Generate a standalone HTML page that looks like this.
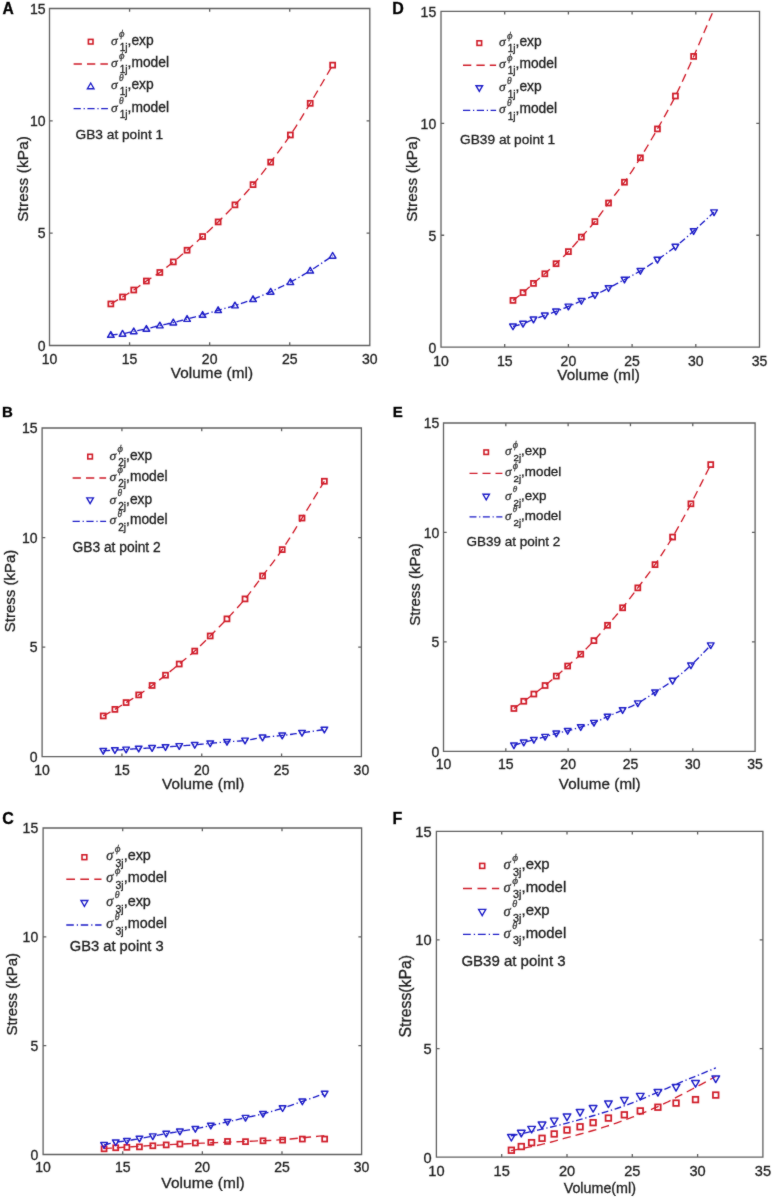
<!DOCTYPE html><html><head><meta charset="utf-8"><style>html,body{margin:0;padding:0;background:#fff;width:774px;height:1198px;overflow:hidden;}svg{display:block;}text{font-family:"Liberation Sans",sans-serif;stroke:#1a1a1a;stroke-width:0.3px;paint-order:stroke;}.g{font-family:"Liberation Serif",serif;font-style:italic;}.b{font-weight:bold;}</style></head><body>
<svg width="774" height="1198" viewBox="0 0 774 1198">
<rect width="774" height="1198" fill="#fff"/>
<filter id="bl" x="0" y="0" width="774" height="1198" filterUnits="userSpaceOnUse"><feConvolveMatrix order="3" kernelMatrix="1 2 1 2 28 2 1 2 1" divisor="40" edgeMode="duplicate" preserveAlpha="false"/></filter>
<g filter="url(#bl)">
<clipPath id="c0"><rect x="49.5" y="8.5" width="320.30" height="337.00"/></clipPath>
<g clip-path="url(#c0)" fill="none" stroke-width="1.35">
<path d="M110.84,303.94 L111.54,303.52 L112.44,302.99 L113.50,302.36 L114.70,301.65 L115.98,300.89 L117.33,300.09 L118.69,299.28 L120.03,298.48 L121.33,297.70 L122.53,296.97 L123.66,296.28 L124.78,295.61 L125.88,294.95 L126.98,294.28 L128.07,293.62 L129.17,292.94 L130.28,292.25 L131.41,291.53 L132.56,290.79 L133.74,290.01 L134.94,289.19 L136.16,288.33 L137.40,287.45 L138.66,286.54 L139.92,285.61 L141.20,284.68 L142.49,283.75 L143.79,282.82 L145.09,281.91 L146.39,281.02 L147.70,280.16 L149.03,279.32 L150.37,278.49 L151.71,277.67 L153.07,276.85 L154.42,276.02 L155.78,275.18 L157.14,274.31 L158.49,273.42 L159.84,272.48 L161.19,271.51 L162.53,270.52 L163.87,269.50 L165.21,268.46 L166.55,267.40 L167.89,266.33 L169.24,265.24 L170.58,264.14 L171.94,263.03 L173.30,261.92 L174.65,260.81 L176.00,259.69 L177.35,258.57 L178.70,257.43 L180.05,256.28 L181.42,255.11 L182.80,253.93 L184.20,252.73 L185.62,251.50 L187.07,250.24 L188.55,248.96 L190.06,247.64 L191.60,246.31 L193.16,244.95 L194.73,243.57 L196.31,242.18 L197.89,240.78 L199.47,239.37 L201.04,237.95 L202.60,236.54 L204.15,235.12 L205.69,233.71 L207.22,232.30 L208.76,230.88 L210.29,229.45 L211.83,228.00 L213.38,226.52 L214.95,225.03 L216.53,223.50 L218.14,221.93 L219.76,220.34 L221.40,218.73 L223.05,217.09 L224.71,215.43 L226.39,213.75 L228.07,212.03 L229.77,210.29 L231.49,208.51 L233.21,206.70 L234.95,204.86 L236.71,202.97 L238.50,201.05 L240.30,199.09 L242.12,197.10 L243.95,195.09 L245.78,193.04 L247.62,190.97 L249.44,188.88 L251.25,186.77 L253.05,184.64 L254.82,182.50 L256.57,180.36 L258.31,178.21 L260.03,176.04 L261.76,173.84 L263.49,171.61 L265.24,169.33 L267.02,167.00 L268.82,164.62 L270.67,162.17 L272.55,159.66 L274.47,157.11 L276.42,154.50 L278.39,151.85 L280.38,149.16 L282.37,146.41 L284.38,143.62 L286.38,140.79 L288.38,137.91 L290.37,134.99 L292.33,132.03 L294.29,129.04 L296.23,126.02 L298.17,122.95 L300.12,119.84 L302.09,116.67 L304.07,113.43 L306.09,110.13 L308.13,106.76 L310.22,103.31 L312.46,99.58 L314.90,95.48 L317.47,91.13 L320.08,86.67 L322.68,82.23 L325.17,77.96 L327.49,73.97 L329.55,70.41 L331.30,67.42 L332.65,65.12" stroke="#d01e2c" stroke-dasharray="8.3,5.0"/>
<path d="M110.84,334.94 L111.54,334.88 L112.44,334.81 L113.50,334.73 L114.70,334.64 L115.98,334.53 L117.33,334.42 L118.69,334.29 L120.03,334.15 L121.33,333.99 L122.53,333.82 L123.66,333.62 L124.78,333.41 L125.88,333.18 L126.98,332.93 L128.07,332.67 L129.17,332.40 L130.28,332.13 L131.41,331.86 L132.56,331.60 L133.74,331.35 L134.94,331.10 L136.16,330.87 L137.40,330.63 L138.66,330.40 L139.92,330.17 L141.20,329.93 L142.49,329.68 L143.79,329.43 L145.09,329.16 L146.39,328.87 L147.70,328.57 L149.03,328.25 L150.37,327.92 L151.71,327.57 L153.07,327.22 L154.42,326.86 L155.78,326.51 L157.14,326.16 L158.49,325.83 L159.84,325.50 L161.19,325.20 L162.53,324.90 L163.87,324.62 L165.21,324.34 L166.55,324.06 L167.89,323.78 L169.24,323.50 L170.58,323.20 L171.94,322.90 L173.30,322.58 L174.65,322.25 L176.00,321.92 L177.35,321.57 L178.70,321.22 L180.05,320.86 L181.42,320.49 L182.80,320.12 L184.20,319.75 L185.62,319.37 L187.07,318.99 L188.55,318.61 L190.06,318.22 L191.60,317.83 L193.16,317.44 L194.73,317.04 L196.31,316.63 L197.89,316.22 L199.47,315.80 L201.04,315.38 L202.60,314.95 L204.15,314.50 L205.69,314.04 L207.22,313.58 L208.76,313.11 L210.29,312.63 L211.83,312.15 L213.38,311.66 L214.95,311.18 L216.53,310.70 L218.14,310.23 L219.76,309.76 L221.40,309.31 L223.05,308.86 L224.71,308.42 L226.39,307.97 L228.07,307.51 L229.77,307.04 L231.49,306.55 L233.21,306.04 L234.95,305.51 L236.71,304.95 L238.50,304.37 L240.30,303.77 L242.12,303.16 L243.95,302.53 L245.78,301.89 L247.62,301.24 L249.44,300.57 L251.25,299.90 L253.05,299.22 L254.82,298.53 L256.57,297.84 L258.31,297.15 L260.03,296.44 L261.76,295.72 L263.49,294.99 L265.24,294.23 L267.02,293.45 L268.82,292.64 L270.67,291.80 L272.55,290.94 L274.47,290.05 L276.42,289.13 L278.39,288.19 L280.38,287.23 L282.37,286.25 L284.38,285.25 L286.38,284.23 L288.38,283.19 L290.37,282.14 L292.33,281.09 L294.29,280.02 L296.23,278.94 L298.17,277.85 L300.12,276.74 L302.09,275.60 L304.07,274.43 L306.09,273.22 L308.13,271.98 L310.22,270.69 L312.46,269.27 L314.90,267.70 L317.47,266.02 L320.08,264.29 L322.68,262.56 L325.17,260.88 L327.49,259.32 L329.55,257.93 L331.30,256.76 L332.65,255.86" stroke="#1c1cc8" stroke-dasharray="6.8,2.7,1.3,2.6"/>
<rect x="108.34" y="301.44" width="5.0" height="5.0" stroke="#d01e2c" stroke-width="1.75"/>
<rect x="120.03" y="294.47" width="5.0" height="5.0" stroke="#d01e2c" stroke-width="1.75"/>
<rect x="131.24" y="287.51" width="5.0" height="5.0" stroke="#d01e2c" stroke-width="1.75"/>
<rect x="143.89" y="278.52" width="5.0" height="5.0" stroke="#d01e2c" stroke-width="1.75"/>
<rect x="157.34" y="269.98" width="5.0" height="5.0" stroke="#d01e2c" stroke-width="1.75"/>
<rect x="170.80" y="259.42" width="5.0" height="5.0" stroke="#d01e2c" stroke-width="1.75"/>
<rect x="184.57" y="247.74" width="5.0" height="5.0" stroke="#d01e2c" stroke-width="1.75"/>
<rect x="200.10" y="234.04" width="5.0" height="5.0" stroke="#d01e2c" stroke-width="1.75"/>
<rect x="215.64" y="219.43" width="5.0" height="5.0" stroke="#d01e2c" stroke-width="1.75"/>
<rect x="232.45" y="202.36" width="5.0" height="5.0" stroke="#d01e2c" stroke-width="1.75"/>
<rect x="250.55" y="182.14" width="5.0" height="5.0" stroke="#d01e2c" stroke-width="1.75"/>
<rect x="268.17" y="159.67" width="5.0" height="5.0" stroke="#d01e2c" stroke-width="1.75"/>
<rect x="287.87" y="132.49" width="5.0" height="5.0" stroke="#d01e2c" stroke-width="1.75"/>
<rect x="307.72" y="100.81" width="5.0" height="5.0" stroke="#d01e2c" stroke-width="1.75"/>
<rect x="330.15" y="62.62" width="5.0" height="5.0" stroke="#d01e2c" stroke-width="1.75"/>
<polygon points="110.84,331.58 114.14,337.30 107.54,337.30" stroke="#1c1cc8" stroke-width="1.45" stroke-linejoin="round"/>
<polygon points="122.53,330.46 125.83,336.18 119.23,336.18" stroke="#1c1cc8" stroke-width="1.45" stroke-linejoin="round"/>
<polygon points="133.74,327.99 137.04,333.70 130.44,333.70" stroke="#1c1cc8" stroke-width="1.45" stroke-linejoin="round"/>
<polygon points="146.39,325.52 149.69,331.23 143.09,331.23" stroke="#1c1cc8" stroke-width="1.45" stroke-linejoin="round"/>
<polygon points="159.84,322.15 163.14,327.86 156.54,327.86" stroke="#1c1cc8" stroke-width="1.45" stroke-linejoin="round"/>
<polygon points="173.30,319.23 176.60,324.94 170.00,324.94" stroke="#1c1cc8" stroke-width="1.45" stroke-linejoin="round"/>
<polygon points="187.07,315.63 190.37,321.35 183.77,321.35" stroke="#1c1cc8" stroke-width="1.45" stroke-linejoin="round"/>
<polygon points="202.60,311.59 205.90,317.30 199.30,317.30" stroke="#1c1cc8" stroke-width="1.45" stroke-linejoin="round"/>
<polygon points="218.14,306.87 221.44,312.59 214.84,312.59" stroke="#1c1cc8" stroke-width="1.45" stroke-linejoin="round"/>
<polygon points="234.95,302.15 238.25,307.87 231.65,307.87" stroke="#1c1cc8" stroke-width="1.45" stroke-linejoin="round"/>
<polygon points="253.05,295.86 256.35,301.58 249.75,301.58" stroke="#1c1cc8" stroke-width="1.45" stroke-linejoin="round"/>
<polygon points="270.67,288.45 273.97,294.16 267.37,294.16" stroke="#1c1cc8" stroke-width="1.45" stroke-linejoin="round"/>
<polygon points="290.37,278.79 293.67,284.50 287.07,284.50" stroke="#1c1cc8" stroke-width="1.45" stroke-linejoin="round"/>
<polygon points="310.22,267.33 313.52,273.04 306.92,273.04" stroke="#1c1cc8" stroke-width="1.45" stroke-linejoin="round"/>
<polygon points="332.65,252.50 335.95,258.22 329.35,258.22" stroke="#1c1cc8" stroke-width="1.45" stroke-linejoin="round"/>
</g>
<path d="M49.5,8.5 H369.8 V345.5 H49.5 Z M129.57,345.5 v-3.2 M129.57,8.5 v3.2 M209.65,345.5 v-3.2 M209.65,8.5 v3.2 M289.73,345.5 v-3.2 M289.73,8.5 v3.2 M49.5,233.17 h3.2 M369.8,233.17 h-3.2 M49.5,120.83 h3.2 M369.8,120.83 h-3.2" fill="none" stroke="#606060" stroke-width="1.3"/>
<text x="49.50" y="363.90" font-size="14.0" fill="#1c1c1c" text-anchor="middle">10</text>
<text x="129.57" y="363.90" font-size="14.0" fill="#1c1c1c" text-anchor="middle">15</text>
<text x="209.65" y="363.90" font-size="14.0" fill="#1c1c1c" text-anchor="middle">20</text>
<text x="289.73" y="363.90" font-size="14.0" fill="#1c1c1c" text-anchor="middle">25</text>
<text x="369.80" y="363.90" font-size="14.0" fill="#1c1c1c" text-anchor="middle">30</text>
<text x="45.50" y="350.80" font-size="14.0" fill="#1c1c1c" text-anchor="end">0</text>
<text x="45.50" y="238.47" font-size="14.0" fill="#1c1c1c" text-anchor="end">5</text>
<text x="45.50" y="126.13" font-size="14.0" fill="#1c1c1c" text-anchor="end">10</text>
<text x="45.50" y="13.80" font-size="14.0" fill="#1c1c1c" text-anchor="end">15</text>
<text x="212.00" y="377.60" font-size="15.25" letter-spacing="0.1" fill="#1c1c1c" text-anchor="middle">Volume (ml)</text>
<text transform="translate(27.55,178.90) rotate(-90)" font-size="15.3" letter-spacing="0.15" fill="#1c1c1c" text-anchor="middle">Stress (kPa)</text>
<text x="2.4" y="13.7" font-size="15.6" class="b" fill="#000">A</text>
<rect x="88.40" y="39.40" width="4.60" height="4.60" fill="none" stroke="#d01e2c" stroke-width="1.6"/>
<line x1="73.6" y1="64" x2="107.9" y2="64" stroke="#d01e2c" stroke-width="1.35" stroke-dasharray="8.30,5.10"/>
<polygon points="90.70,83.00 94.00,88.70 87.40,88.70" fill="none" stroke="#1c1cc8" stroke-width="1.35"/>
<line x1="73.6" y1="108.6" x2="107.9" y2="108.6" stroke="#1c1cc8" stroke-width="1.35" stroke-dasharray="7.20,2.80,1.20,2.60"/>
<text x="110.90" y="44.70" class="g" font-size="13.50" fill="#333">σ</text>
<text x="119.00" y="37.10" class="g" font-size="10.50" fill="#444">ϕ</text>
<text x="119.80" y="50.90" font-size="10.00" fill="#1c1c1c">1j</text>
<text x="127.60" y="44.60" font-size="13.80" fill="#1c1c1c">,exp</text>
<text x="110.90" y="67.00" class="g" font-size="13.50" fill="#333">σ</text>
<text x="119.00" y="59.40" class="g" font-size="10.50" fill="#444">ϕ</text>
<text x="119.80" y="73.20" font-size="10.00" fill="#1c1c1c">1j</text>
<text x="127.60" y="66.90" font-size="13.80" fill="#1c1c1c">,model</text>
<text x="110.90" y="89.00" class="g" font-size="13.50" fill="#333">σ</text>
<text x="119.00" y="81.40" class="g" font-size="9.50" fill="#444">θ</text>
<text x="119.80" y="95.20" font-size="10.00" fill="#1c1c1c">1j</text>
<text x="127.60" y="88.90" font-size="13.80" fill="#1c1c1c">,exp</text>
<text x="110.90" y="111.60" class="g" font-size="13.50" fill="#333">σ</text>
<text x="119.00" y="104.00" class="g" font-size="9.50" fill="#444">θ</text>
<text x="119.80" y="117.80" font-size="10.00" fill="#1c1c1c">1j</text>
<text x="127.60" y="111.50" font-size="13.80" fill="#1c1c1c">,model</text>
<text x="75.6" y="139" font-size="13.7" fill="#1c1c1c">GB3 at point 1</text>
<clipPath id="c1"><rect x="42.1" y="428" width="319.30" height="328.70"/></clipPath>
<g clip-path="url(#c1)" fill="none" stroke-width="1.35">
<path d="M103.25,715.94 L103.94,715.55 L104.84,715.05 L105.90,714.46 L107.09,713.80 L108.37,713.08 L109.71,712.33 L111.07,711.56 L112.41,710.80 L113.70,710.06 L114.90,709.37 L116.03,708.70 L117.14,708.04 L118.24,707.37 L119.34,706.71 L120.43,706.04 L121.53,705.36 L122.63,704.68 L123.76,703.99 L124.90,703.29 L126.08,702.57 L127.28,701.85 L128.49,701.12 L129.73,700.39 L130.98,699.65 L132.24,698.90 L133.52,698.14 L134.80,697.36 L136.09,696.56 L137.39,695.75 L138.69,694.90 L140.00,694.04 L141.32,693.15 L142.65,692.23 L144.00,691.30 L145.34,690.36 L146.70,689.40 L148.05,688.43 L149.40,687.45 L150.75,686.47 L152.10,685.48 L153.44,684.49 L154.78,683.49 L156.11,682.48 L157.45,681.47 L158.78,680.44 L160.12,679.41 L161.46,678.36 L162.81,677.31 L164.16,676.25 L165.51,675.18 L166.86,674.11 L168.21,673.03 L169.55,671.95 L170.89,670.86 L172.24,669.76 L173.61,668.65 L174.98,667.52 L176.38,666.37 L177.79,665.20 L179.24,664.01 L180.72,662.79 L182.22,661.57 L183.76,660.33 L185.31,659.07 L186.87,657.79 L188.45,656.49 L190.02,655.17 L191.60,653.83 L193.17,652.47 L194.73,651.08 L196.27,649.66 L197.80,648.23 L199.33,646.76 L200.86,645.28 L202.39,643.78 L203.93,642.25 L205.47,640.71 L207.03,639.14 L208.61,637.56 L210.21,635.96 L211.83,634.34 L213.46,632.71 L215.11,631.06 L216.76,629.40 L218.43,627.71 L220.12,626.00 L221.81,624.26 L223.52,622.50 L225.24,620.70 L226.97,618.87 L228.73,617.00 L230.51,615.11 L232.31,613.19 L234.12,611.24 L235.95,609.26 L237.77,607.26 L239.60,605.22 L241.42,603.15 L243.22,601.06 L245.02,598.92 L246.78,596.76 L248.52,594.57 L250.25,592.35 L251.97,590.10 L253.70,587.82 L255.43,585.50 L257.17,583.16 L258.94,580.78 L260.74,578.36 L262.58,575.91 L264.46,573.44 L266.37,570.95 L268.31,568.43 L270.27,565.89 L272.26,563.30 L274.25,560.67 L276.25,558.00 L278.24,555.27 L280.23,552.48 L282.21,549.62 L284.18,546.70 L286.12,543.73 L288.06,540.70 L290.00,537.63 L291.94,534.50 L293.90,531.32 L295.88,528.08 L297.88,524.80 L299.93,521.46 L302.01,518.06 L304.24,514.43 L306.67,510.45 L309.23,506.25 L311.84,501.95 L314.42,497.68 L316.91,493.58 L319.22,489.75 L321.28,486.34 L323.02,483.46 L324.36,481.25" stroke="#d01e2c" stroke-dasharray="8.3,5.0"/>
<path d="M103.25,750.78 L103.94,750.74 L104.84,750.69 L105.90,750.63 L107.09,750.57 L108.37,750.50 L109.71,750.42 L111.07,750.34 L112.41,750.27 L113.70,750.19 L114.90,750.13 L116.03,750.06 L117.14,750.00 L118.24,749.94 L119.34,749.87 L120.43,749.81 L121.53,749.75 L122.63,749.68 L123.76,749.61 L124.90,749.54 L126.08,749.47 L127.28,749.39 L128.49,749.30 L129.73,749.21 L130.98,749.12 L132.24,749.03 L133.52,748.94 L134.80,748.85 L136.09,748.76 L137.39,748.67 L138.69,748.59 L140.00,748.52 L141.32,748.45 L142.65,748.39 L144.00,748.32 L145.34,748.26 L146.70,748.20 L148.05,748.14 L149.40,748.08 L150.75,748.01 L152.10,747.93 L153.44,747.86 L154.78,747.78 L156.11,747.69 L157.45,747.61 L158.78,747.52 L160.12,747.44 L161.46,747.34 L162.81,747.25 L164.16,747.16 L165.51,747.06 L166.86,746.96 L168.21,746.85 L169.55,746.75 L170.89,746.64 L172.24,746.52 L173.61,746.41 L174.98,746.30 L176.38,746.19 L177.79,746.07 L179.24,745.96 L180.72,745.85 L182.22,745.75 L183.76,745.65 L185.31,745.55 L186.87,745.44 L188.45,745.34 L190.02,745.23 L191.60,745.11 L193.17,744.99 L194.73,744.87 L196.27,744.73 L197.80,744.59 L199.33,744.44 L200.86,744.28 L202.39,744.13 L203.93,743.97 L205.47,743.81 L207.03,743.65 L208.61,743.49 L210.21,743.33 L211.83,743.18 L213.46,743.02 L215.11,742.87 L216.76,742.71 L218.43,742.55 L220.12,742.40 L221.81,742.24 L223.52,742.09 L225.24,741.94 L226.97,741.80 L228.73,741.67 L230.51,741.55 L232.31,741.44 L234.12,741.34 L235.95,741.24 L237.77,741.13 L239.60,741.00 L241.42,740.86 L243.22,740.69 L245.02,740.48 L246.78,740.24 L248.52,739.97 L250.25,739.66 L251.97,739.33 L253.70,738.99 L255.43,738.65 L257.17,738.31 L258.94,737.99 L260.74,737.69 L262.58,737.42 L264.46,737.18 L266.37,736.96 L268.31,736.76 L270.27,736.58 L272.26,736.40 L274.25,736.23 L276.25,736.05 L278.24,735.86 L280.23,735.66 L282.21,735.44 L284.18,735.21 L286.12,734.97 L288.06,734.72 L290.00,734.47 L291.94,734.21 L293.90,733.95 L295.88,733.67 L297.88,733.39 L299.93,733.11 L302.01,732.81 L304.24,732.50 L306.67,732.15 L309.23,731.77 L311.84,731.39 L314.42,731.01 L316.91,730.64 L319.22,730.29 L321.28,729.99 L323.02,729.73 L324.36,729.53" stroke="#1c1cc8" stroke-dasharray="6.8,2.7,1.3,2.6"/>
<rect x="100.75" y="713.44" width="5.0" height="5.0" stroke="#d01e2c" stroke-width="1.75"/>
<rect x="112.40" y="706.87" width="5.0" height="5.0" stroke="#d01e2c" stroke-width="1.75"/>
<rect x="123.58" y="700.07" width="5.0" height="5.0" stroke="#d01e2c" stroke-width="1.75"/>
<rect x="136.19" y="692.40" width="5.0" height="5.0" stroke="#d01e2c" stroke-width="1.75"/>
<rect x="149.60" y="682.98" width="5.0" height="5.0" stroke="#d01e2c" stroke-width="1.75"/>
<rect x="163.01" y="672.68" width="5.0" height="5.0" stroke="#d01e2c" stroke-width="1.75"/>
<rect x="176.74" y="661.51" width="5.0" height="5.0" stroke="#d01e2c" stroke-width="1.75"/>
<rect x="192.23" y="648.58" width="5.0" height="5.0" stroke="#d01e2c" stroke-width="1.75"/>
<rect x="207.71" y="633.46" width="5.0" height="5.0" stroke="#d01e2c" stroke-width="1.75"/>
<rect x="224.47" y="616.37" width="5.0" height="5.0" stroke="#d01e2c" stroke-width="1.75"/>
<rect x="242.52" y="596.42" width="5.0" height="5.0" stroke="#d01e2c" stroke-width="1.75"/>
<rect x="260.08" y="573.41" width="5.0" height="5.0" stroke="#d01e2c" stroke-width="1.75"/>
<rect x="279.71" y="547.12" width="5.0" height="5.0" stroke="#d01e2c" stroke-width="1.75"/>
<rect x="299.51" y="515.56" width="5.0" height="5.0" stroke="#d01e2c" stroke-width="1.75"/>
<rect x="321.86" y="478.75" width="5.0" height="5.0" stroke="#d01e2c" stroke-width="1.75"/>
<polygon points="103.25,754.14 106.55,748.43 99.95,748.43" stroke="#1c1cc8" stroke-width="1.45" stroke-linejoin="round"/>
<polygon points="114.90,753.48 118.20,747.77 111.60,747.77" stroke="#1c1cc8" stroke-width="1.45" stroke-linejoin="round"/>
<polygon points="126.08,752.83 129.38,747.11 122.78,747.11" stroke="#1c1cc8" stroke-width="1.45" stroke-linejoin="round"/>
<polygon points="138.69,751.95 141.99,746.23 135.39,746.23" stroke="#1c1cc8" stroke-width="1.45" stroke-linejoin="round"/>
<polygon points="152.10,751.29 155.40,745.58 148.80,745.58" stroke="#1c1cc8" stroke-width="1.45" stroke-linejoin="round"/>
<polygon points="165.51,750.42 168.81,744.70 162.21,744.70" stroke="#1c1cc8" stroke-width="1.45" stroke-linejoin="round"/>
<polygon points="179.24,749.32 182.54,743.60 175.94,743.60" stroke="#1c1cc8" stroke-width="1.45" stroke-linejoin="round"/>
<polygon points="194.73,748.22 198.03,742.51 191.43,742.51" stroke="#1c1cc8" stroke-width="1.45" stroke-linejoin="round"/>
<polygon points="210.21,746.69 213.51,740.98 206.91,740.98" stroke="#1c1cc8" stroke-width="1.45" stroke-linejoin="round"/>
<polygon points="226.97,745.16 230.27,739.44 223.67,739.44" stroke="#1c1cc8" stroke-width="1.45" stroke-linejoin="round"/>
<polygon points="245.02,743.84 248.32,738.13 241.72,738.13" stroke="#1c1cc8" stroke-width="1.45" stroke-linejoin="round"/>
<polygon points="262.58,740.77 265.88,735.06 259.28,735.06" stroke="#1c1cc8" stroke-width="1.45" stroke-linejoin="round"/>
<polygon points="282.21,738.80 285.51,733.09 278.91,733.09" stroke="#1c1cc8" stroke-width="1.45" stroke-linejoin="round"/>
<polygon points="302.01,736.17 305.31,730.46 298.71,730.46" stroke="#1c1cc8" stroke-width="1.45" stroke-linejoin="round"/>
<polygon points="324.36,732.89 327.66,727.17 321.06,727.17" stroke="#1c1cc8" stroke-width="1.45" stroke-linejoin="round"/>
</g>
<path d="M42.1,428 H361.4 V756.7 H42.1 Z M121.92,756.7 v-3.2 M121.92,428 v3.2 M201.75,756.7 v-3.2 M201.75,428 v3.2 M281.57,756.7 v-3.2 M281.57,428 v3.2 M42.1,647.13 h3.2 M361.4,647.13 h-3.2 M42.1,537.57 h3.2 M361.4,537.57 h-3.2" fill="none" stroke="#606060" stroke-width="1.3"/>
<text x="42.10" y="774.50" font-size="14.0" fill="#1c1c1c" text-anchor="middle">10</text>
<text x="121.92" y="774.50" font-size="14.0" fill="#1c1c1c" text-anchor="middle">15</text>
<text x="201.75" y="774.50" font-size="14.0" fill="#1c1c1c" text-anchor="middle">20</text>
<text x="281.57" y="774.50" font-size="14.0" fill="#1c1c1c" text-anchor="middle">25</text>
<text x="361.40" y="774.50" font-size="14.0" fill="#1c1c1c" text-anchor="middle">30</text>
<text x="37.60" y="762.00" font-size="14.0" fill="#1c1c1c" text-anchor="end">0</text>
<text x="37.60" y="652.43" font-size="14.0" fill="#1c1c1c" text-anchor="end">5</text>
<text x="37.60" y="542.87" font-size="14.0" fill="#1c1c1c" text-anchor="end">10</text>
<text x="37.60" y="433.30" font-size="14.0" fill="#1c1c1c" text-anchor="end">15</text>
<text x="203.20" y="789.30" font-size="15.25" letter-spacing="0.1" fill="#1c1c1c" text-anchor="middle">Volume (ml)</text>
<text transform="translate(14.53,591.00) rotate(-90)" font-size="15.0" letter-spacing="0" fill="#1c1c1c" text-anchor="middle">Stress (kPa)</text>
<text x="2.0" y="417.4" font-size="15" class="b" fill="#000">B</text>
<rect x="87.80" y="454.30" width="4.60" height="4.60" fill="none" stroke="#d01e2c" stroke-width="1.6"/>
<line x1="72.6" y1="478" x2="106.1" y2="478" stroke="#d01e2c" stroke-width="1.35" stroke-dasharray="8.30,5.10"/>
<polygon points="90.10,503.60 93.40,497.90 86.80,497.90" fill="none" stroke="#1c1cc8" stroke-width="1.35"/>
<line x1="72.6" y1="521.4" x2="106.1" y2="521.4" stroke="#1c1cc8" stroke-width="1.35" stroke-dasharray="7.20,2.80,1.20,2.60"/>
<text x="109.40" y="459.60" class="g" font-size="13.50" fill="#333">σ</text>
<text x="117.50" y="452.00" class="g" font-size="10.50" fill="#444">ϕ</text>
<text x="118.30" y="465.80" font-size="10.00" fill="#1c1c1c">2j</text>
<text x="126.10" y="459.50" font-size="13.80" fill="#1c1c1c">,exp</text>
<text x="109.40" y="481.00" class="g" font-size="13.50" fill="#333">σ</text>
<text x="117.50" y="473.40" class="g" font-size="10.50" fill="#444">ϕ</text>
<text x="118.30" y="487.20" font-size="10.00" fill="#1c1c1c">2j</text>
<text x="126.10" y="480.90" font-size="13.80" fill="#1c1c1c">,model</text>
<text x="109.40" y="503.60" class="g" font-size="13.50" fill="#333">σ</text>
<text x="117.50" y="496.00" class="g" font-size="9.50" fill="#444">θ</text>
<text x="118.30" y="509.80" font-size="10.00" fill="#1c1c1c">2j</text>
<text x="126.10" y="503.50" font-size="13.80" fill="#1c1c1c">,exp</text>
<text x="109.40" y="524.40" class="g" font-size="13.50" fill="#333">σ</text>
<text x="117.50" y="516.80" class="g" font-size="9.50" fill="#444">θ</text>
<text x="118.30" y="530.60" font-size="10.00" fill="#1c1c1c">2j</text>
<text x="126.10" y="524.30" font-size="13.80" fill="#1c1c1c">,model</text>
<text x="72.5" y="551.7" font-size="13.8" fill="#1c1c1c">GB3 at point 2</text>
<clipPath id="c2"><rect x="43.1" y="828" width="318.50" height="326.50"/></clipPath>
<g clip-path="url(#c2)" fill="none" stroke-width="1.35">
<path d="M103.62,1148.62 L106.66,1148.42 L110.60,1148.16 L115.26,1147.85 L120.48,1147.50 L126.11,1147.13 L131.97,1146.74 L137.92,1146.36 L143.77,1145.99 L149.38,1145.66 L154.57,1145.36 L159.48,1145.10 L164.33,1144.85 L169.14,1144.62 L173.91,1144.40 L178.66,1144.19 L183.39,1143.98 L188.12,1143.78 L192.85,1143.59 L197.59,1143.39 L202.35,1143.18 L207.20,1142.97 L212.16,1142.77 L217.18,1142.56 L222.22,1142.36 L227.23,1142.16 L232.16,1141.96 L236.96,1141.77 L241.59,1141.58 L245.99,1141.40 L250.12,1141.22 L253.90,1141.06 L257.34,1140.93 L260.50,1140.82 L263.48,1140.71 L266.35,1140.60 L269.20,1140.48 L272.10,1140.33 L275.15,1140.16 L278.41,1139.95 L281.98,1139.70 L286.02,1139.37 L290.55,1138.97 L295.41,1138.52 L300.44,1138.03 L305.46,1137.54 L310.33,1137.04 L314.88,1136.58 L318.95,1136.17 L322.36,1135.82 L324.97,1135.56" stroke="#d01e2c" stroke-dasharray="8.3,5.0"/>
<path d="M104.09,1144.92 L104.79,1144.76 L105.68,1144.55 L106.74,1144.30 L107.93,1144.01 L109.21,1143.71 L110.54,1143.40 L111.90,1143.10 L113.24,1142.81 L114.52,1142.54 L115.72,1142.31 L116.85,1142.12 L117.96,1141.95 L119.05,1141.79 L120.14,1141.65 L121.23,1141.52 L122.33,1141.39 L123.43,1141.26 L124.55,1141.12 L125.69,1140.96 L126.87,1140.79 L128.06,1140.60 L129.28,1140.40 L130.51,1140.19 L131.76,1139.97 L133.02,1139.75 L134.29,1139.53 L135.57,1139.30 L136.86,1139.07 L138.15,1138.84 L139.45,1138.61 L140.75,1138.38 L142.07,1138.15 L143.40,1137.91 L144.74,1137.68 L146.08,1137.44 L147.43,1137.20 L148.79,1136.96 L150.14,1136.71 L151.48,1136.47 L152.82,1136.22 L154.16,1135.96 L155.49,1135.70 L156.83,1135.43 L158.16,1135.17 L159.49,1134.90 L160.83,1134.63 L162.16,1134.36 L163.50,1134.10 L164.85,1133.85 L166.20,1133.60 L167.55,1133.37 L168.89,1133.15 L170.23,1132.93 L171.57,1132.72 L172.92,1132.52 L174.28,1132.31 L175.65,1132.10 L177.04,1131.88 L178.45,1131.66 L179.90,1131.43 L181.37,1131.19 L182.87,1130.94 L184.40,1130.70 L185.95,1130.45 L187.51,1130.19 L189.08,1129.93 L190.65,1129.66 L192.23,1129.39 L193.79,1129.10 L195.34,1128.82 L196.88,1128.52 L198.41,1128.21 L199.94,1127.90 L201.46,1127.58 L202.99,1127.25 L204.52,1126.92 L206.06,1126.58 L207.62,1126.24 L209.19,1125.90 L210.79,1125.55 L212.41,1125.20 L214.03,1124.85 L215.67,1124.49 L217.33,1124.12 L218.99,1123.75 L220.67,1123.38 L222.36,1123.01 L224.07,1122.62 L225.78,1122.24 L227.51,1121.85 L229.26,1121.45 L231.04,1121.05 L232.83,1120.63 L234.64,1120.22 L236.46,1119.80 L238.28,1119.37 L240.10,1118.95 L241.92,1118.53 L243.72,1118.12 L245.51,1117.71 L247.27,1117.32 L249.01,1116.94 L250.73,1116.58 L252.45,1116.22 L254.17,1115.85 L255.89,1115.48 L257.63,1115.09 L259.40,1114.69 L261.19,1114.26 L263.02,1113.80 L264.90,1113.31 L266.81,1112.79 L268.74,1112.26 L270.70,1111.71 L272.68,1111.14 L274.67,1110.56 L276.66,1109.97 L278.65,1109.37 L280.64,1108.75 L282.61,1108.14 L284.57,1107.51 L286.51,1106.87 L288.44,1106.23 L290.38,1105.57 L292.32,1104.90 L294.27,1104.22 L296.24,1103.53 L298.24,1102.83 L300.28,1102.11 L302.36,1101.39 L304.59,1100.61 L307.01,1099.77 L309.56,1098.87 L312.16,1097.96 L314.74,1097.05 L317.22,1096.18 L319.52,1095.36 L321.58,1094.64 L323.32,1094.02 L324.65,1093.55" stroke="#1c1cc8" stroke-dasharray="6.8,2.7,1.3,2.6"/>
<rect x="101.59" y="1146.34" width="5.0" height="5.0" stroke="#d01e2c" stroke-width="1.75"/>
<rect x="113.22" y="1145.25" width="5.0" height="5.0" stroke="#d01e2c" stroke-width="1.75"/>
<rect x="124.37" y="1144.82" width="5.0" height="5.0" stroke="#d01e2c" stroke-width="1.75"/>
<rect x="136.95" y="1144.38" width="5.0" height="5.0" stroke="#d01e2c" stroke-width="1.75"/>
<rect x="150.32" y="1143.29" width="5.0" height="5.0" stroke="#d01e2c" stroke-width="1.75"/>
<rect x="163.70" y="1142.42" width="5.0" height="5.0" stroke="#d01e2c" stroke-width="1.75"/>
<rect x="177.40" y="1141.55" width="5.0" height="5.0" stroke="#d01e2c" stroke-width="1.75"/>
<rect x="192.84" y="1140.46" width="5.0" height="5.0" stroke="#d01e2c" stroke-width="1.75"/>
<rect x="208.29" y="1139.81" width="5.0" height="5.0" stroke="#d01e2c" stroke-width="1.75"/>
<rect x="225.01" y="1138.94" width="5.0" height="5.0" stroke="#d01e2c" stroke-width="1.75"/>
<rect x="243.01" y="1139.16" width="5.0" height="5.0" stroke="#d01e2c" stroke-width="1.75"/>
<rect x="260.52" y="1138.29" width="5.0" height="5.0" stroke="#d01e2c" stroke-width="1.75"/>
<rect x="280.11" y="1137.63" width="5.0" height="5.0" stroke="#d01e2c" stroke-width="1.75"/>
<rect x="299.86" y="1136.55" width="5.0" height="5.0" stroke="#d01e2c" stroke-width="1.75"/>
<rect x="322.15" y="1136.55" width="5.0" height="5.0" stroke="#d01e2c" stroke-width="1.75"/>
<polygon points="104.09,1148.28 107.39,1142.56 100.79,1142.56" stroke="#1c1cc8" stroke-width="1.45" stroke-linejoin="round"/>
<polygon points="115.72,1145.67 119.02,1139.95 112.42,1139.95" stroke="#1c1cc8" stroke-width="1.45" stroke-linejoin="round"/>
<polygon points="126.87,1144.14 130.17,1138.43 123.57,1138.43" stroke="#1c1cc8" stroke-width="1.45" stroke-linejoin="round"/>
<polygon points="139.45,1141.97 142.75,1136.25 136.15,1136.25" stroke="#1c1cc8" stroke-width="1.45" stroke-linejoin="round"/>
<polygon points="152.82,1139.57 156.12,1133.86 149.52,1133.86" stroke="#1c1cc8" stroke-width="1.45" stroke-linejoin="round"/>
<polygon points="166.20,1136.96 169.50,1131.25 162.90,1131.25" stroke="#1c1cc8" stroke-width="1.45" stroke-linejoin="round"/>
<polygon points="179.90,1134.79 183.20,1129.07 176.60,1129.07" stroke="#1c1cc8" stroke-width="1.45" stroke-linejoin="round"/>
<polygon points="195.34,1132.17 198.64,1126.46 192.04,1126.46" stroke="#1c1cc8" stroke-width="1.45" stroke-linejoin="round"/>
<polygon points="210.79,1128.91 214.09,1123.19 207.49,1123.19" stroke="#1c1cc8" stroke-width="1.45" stroke-linejoin="round"/>
<polygon points="227.51,1125.21 230.81,1119.49 224.21,1119.49" stroke="#1c1cc8" stroke-width="1.45" stroke-linejoin="round"/>
<polygon points="245.51,1121.07 248.81,1115.36 242.21,1115.36" stroke="#1c1cc8" stroke-width="1.45" stroke-linejoin="round"/>
<polygon points="263.02,1117.15 266.32,1111.44 259.72,1111.44" stroke="#1c1cc8" stroke-width="1.45" stroke-linejoin="round"/>
<polygon points="282.61,1111.49 285.91,1105.78 279.31,1105.78" stroke="#1c1cc8" stroke-width="1.45" stroke-linejoin="round"/>
<polygon points="302.36,1104.75 305.66,1099.03 299.06,1099.03" stroke="#1c1cc8" stroke-width="1.45" stroke-linejoin="round"/>
<polygon points="324.65,1096.91 327.95,1091.20 321.35,1091.20" stroke="#1c1cc8" stroke-width="1.45" stroke-linejoin="round"/>
</g>
<path d="M43.1,828 H361.6 V1154.5 H43.1 Z M122.72,1154.5 v-3.2 M122.72,828 v3.2 M202.35,1154.5 v-3.2 M202.35,828 v3.2 M281.98,1154.5 v-3.2 M281.98,828 v3.2 M43.1,1045.67 h3.2 M361.6,1045.67 h-3.2 M43.1,936.83 h3.2 M361.6,936.83 h-3.2" fill="none" stroke="#606060" stroke-width="1.3"/>
<text x="43.10" y="1172.20" font-size="14.0" fill="#1c1c1c" text-anchor="middle">10</text>
<text x="122.72" y="1172.20" font-size="14.0" fill="#1c1c1c" text-anchor="middle">15</text>
<text x="202.35" y="1172.20" font-size="14.0" fill="#1c1c1c" text-anchor="middle">20</text>
<text x="281.98" y="1172.20" font-size="14.0" fill="#1c1c1c" text-anchor="middle">25</text>
<text x="361.60" y="1172.20" font-size="14.0" fill="#1c1c1c" text-anchor="middle">30</text>
<text x="38.20" y="1159.80" font-size="14.0" fill="#1c1c1c" text-anchor="end">0</text>
<text x="38.20" y="1050.97" font-size="14.0" fill="#1c1c1c" text-anchor="end">5</text>
<text x="38.20" y="942.13" font-size="14.0" fill="#1c1c1c" text-anchor="end">10</text>
<text x="38.20" y="833.30" font-size="14.0" fill="#1c1c1c" text-anchor="end">15</text>
<text x="203.10" y="1187.60" font-size="15.45" letter-spacing="0.1" fill="#1c1c1c" text-anchor="middle">Volume (ml)</text>
<text transform="translate(17.02,994.20) rotate(-90)" font-size="15.0" letter-spacing="0" fill="#1c1c1c" text-anchor="middle">Stress (kPa)</text>
<text x="2.2" y="823.8" font-size="16" class="b" fill="#000">C</text>
<rect x="82.00" y="854.80" width="4.81" height="4.81" fill="none" stroke="#d01e2c" stroke-width="1.6"/>
<line x1="66.3" y1="879.2" x2="101.5" y2="879.2" stroke="#d01e2c" stroke-width="1.35" stroke-dasharray="8.67,5.33"/>
<polygon points="84.40,906.43 87.85,900.48 80.95,900.48" fill="none" stroke="#1c1cc8" stroke-width="1.35"/>
<line x1="66.3" y1="925" x2="101.5" y2="925" stroke="#1c1cc8" stroke-width="1.35" stroke-dasharray="7.52,2.93,1.25,2.72"/>
<text x="106.20" y="860.34" class="g" font-size="14.11" fill="#333">σ</text>
<text x="114.65" y="852.39" class="g" font-size="10.97" fill="#444">ϕ</text>
<text x="115.49" y="866.81" font-size="10.45" fill="#1c1c1c">3j</text>
<text x="123.64" y="860.23" font-size="14.42" fill="#1c1c1c">,exp</text>
<text x="106.20" y="882.34" class="g" font-size="14.11" fill="#333">σ</text>
<text x="114.65" y="874.39" class="g" font-size="10.97" fill="#444">ϕ</text>
<text x="115.49" y="888.81" font-size="10.45" fill="#1c1c1c">3j</text>
<text x="123.64" y="882.23" font-size="14.42" fill="#1c1c1c">,model</text>
<text x="106.20" y="906.43" class="g" font-size="14.11" fill="#333">σ</text>
<text x="114.65" y="898.49" class="g" font-size="9.93" fill="#444">θ</text>
<text x="115.49" y="912.91" font-size="10.45" fill="#1c1c1c">3j</text>
<text x="123.64" y="906.33" font-size="14.42" fill="#1c1c1c">,exp</text>
<text x="106.20" y="928.13" class="g" font-size="14.11" fill="#333">σ</text>
<text x="114.65" y="920.19" class="g" font-size="9.93" fill="#444">θ</text>
<text x="115.49" y="934.61" font-size="10.45" fill="#1c1c1c">3j</text>
<text x="123.64" y="928.03" font-size="14.42" fill="#1c1c1c">,model</text>
<text x="69.8" y="951.2" font-size="14.7" fill="#1c1c1c">GB3 at point 3</text>
<clipPath id="c3"><rect x="441" y="11.4" width="318.50" height="335.80"/></clipPath>
<g clip-path="url(#c3)" fill="none" stroke-width="1.35">
<path d="M512.98,300.41 L513.58,299.95 L514.34,299.37 L515.25,298.68 L516.26,297.91 L517.36,297.07 L518.51,296.18 L519.68,295.27 L520.85,294.35 L521.98,293.45 L523.05,292.58 L524.07,291.72 L525.10,290.83 L526.12,289.94 L527.15,289.02 L528.19,288.10 L529.23,287.17 L530.28,286.23 L531.34,285.28 L532.41,284.34 L533.49,283.40 L534.59,282.46 L535.71,281.51 L536.83,280.56 L537.97,279.60 L539.11,278.64 L540.26,277.68 L541.41,276.71 L542.56,275.73 L543.70,274.75 L544.83,273.77 L545.95,272.79 L547.06,271.82 L548.17,270.85 L549.27,269.87 L550.37,268.89 L551.48,267.89 L552.60,266.88 L553.73,265.85 L554.88,264.79 L556.04,263.70 L557.23,262.58 L558.43,261.45 L559.65,260.30 L560.87,259.13 L562.11,257.93 L563.36,256.72 L564.61,255.48 L565.87,254.22 L567.13,252.93 L568.40,251.61 L569.67,250.26 L570.95,248.87 L572.24,247.45 L573.53,246.01 L574.83,244.54 L576.13,243.06 L577.44,241.57 L578.75,240.06 L580.07,238.56 L581.39,237.06 L582.72,235.56 L584.06,234.08 L585.40,232.59 L586.75,231.09 L588.11,229.59 L589.46,228.06 L590.82,226.50 L592.18,224.92 L593.54,223.29 L594.90,221.61 L596.25,219.89 L597.58,218.13 L598.91,216.34 L600.23,214.51 L601.56,212.66 L602.91,210.77 L604.27,208.87 L605.66,206.94 L607.07,204.99 L608.53,203.03 L610.03,201.05 L611.57,199.07 L613.14,197.06 L614.74,195.04 L616.35,192.98 L617.98,190.90 L619.61,188.79 L621.23,186.64 L622.85,184.45 L624.46,182.21 L626.04,179.94 L627.62,177.63 L629.20,175.29 L630.77,172.92 L632.35,170.51 L633.93,168.06 L635.52,165.57 L637.12,163.03 L638.74,160.45 L640.38,157.81 L642.04,155.12 L643.71,152.38 L645.39,149.60 L647.08,146.77 L648.79,143.90 L650.50,140.99 L652.23,138.03 L653.96,135.04 L655.70,132.00 L657.45,128.93 L659.21,125.83 L660.98,122.71 L662.77,119.57 L664.56,116.38 L666.36,113.15 L668.17,109.86 L669.98,106.51 L671.79,103.10 L673.61,99.60 L675.42,96.02 L677.22,92.37 L679.01,88.65 L680.79,84.87 L682.58,81.02 L684.37,77.10 L686.18,73.12 L688.00,69.06 L689.85,64.92 L691.72,60.70 L693.63,56.40 L695.68,51.77 L697.90,46.68 L700.23,41.30 L702.61,35.78 L704.96,30.30 L707.23,25.02 L709.33,20.10 L711.21,15.71 L712.80,12.01 L714.02,9.16" stroke="#d01e2c" stroke-dasharray="8.3,5.0"/>
<path d="M512.98,326.38 L513.58,326.23 L514.34,326.04 L515.25,325.82 L516.26,325.57 L517.36,325.30 L518.51,325.01 L519.68,324.70 L520.85,324.37 L521.98,324.04 L523.05,323.69 L524.07,323.33 L525.10,322.94 L526.12,322.53 L527.15,322.09 L528.19,321.65 L529.23,321.20 L530.28,320.75 L531.34,320.30 L532.41,319.86 L533.49,319.44 L534.59,319.03 L535.71,318.62 L536.83,318.22 L537.97,317.81 L539.11,317.41 L540.26,317.01 L541.41,316.61 L542.56,316.21 L543.70,315.81 L544.83,315.41 L545.95,315.01 L547.06,314.62 L548.17,314.23 L549.27,313.84 L550.37,313.45 L551.48,313.06 L552.60,312.66 L553.73,312.24 L554.88,311.82 L556.04,311.38 L557.23,310.93 L558.43,310.46 L559.65,309.99 L560.87,309.51 L562.11,309.02 L563.36,308.52 L564.61,308.01 L565.87,307.50 L567.13,306.98 L568.40,306.46 L569.67,305.92 L570.95,305.38 L572.24,304.83 L573.53,304.28 L574.83,303.71 L576.13,303.15 L577.44,302.58 L578.75,302.00 L580.07,301.43 L581.39,300.86 L582.72,300.29 L584.06,299.73 L585.40,299.17 L586.75,298.60 L588.11,298.03 L589.46,297.46 L590.82,296.87 L592.18,296.28 L593.54,295.67 L594.90,295.04 L596.25,294.40 L597.58,293.75 L598.91,293.09 L600.23,292.42 L601.56,291.74 L602.91,291.04 L604.27,290.33 L605.66,289.61 L607.07,288.86 L608.53,288.10 L610.03,287.31 L611.57,286.50 L613.14,285.67 L614.74,284.82 L616.35,283.96 L617.98,283.09 L619.61,282.21 L621.23,281.33 L622.85,280.46 L624.46,279.59 L626.04,278.74 L627.62,277.90 L629.20,277.07 L630.77,276.23 L632.35,275.39 L633.93,274.54 L635.52,273.67 L637.12,272.77 L638.74,271.84 L640.38,270.86 L642.04,269.85 L643.71,268.81 L645.39,267.74 L647.08,266.65 L648.79,265.53 L650.50,264.39 L652.23,263.24 L653.96,262.06 L655.70,260.87 L657.45,259.67 L659.21,258.45 L660.98,257.23 L662.77,255.99 L664.56,254.73 L666.36,253.46 L668.17,252.16 L669.98,250.83 L671.79,249.48 L673.61,248.10 L675.42,246.68 L677.22,245.24 L679.01,243.77 L680.79,242.28 L682.58,240.76 L684.37,239.21 L686.18,237.64 L688.00,236.03 L689.85,234.39 L691.72,232.72 L693.63,231.01 L695.68,229.18 L697.90,227.15 L700.23,225.01 L702.61,222.81 L704.96,220.63 L707.23,218.53 L709.33,216.57 L711.21,214.82 L712.80,213.34 L714.02,212.21" stroke="#1c1cc8" stroke-dasharray="6.8,2.7,1.3,2.6"/>
<rect x="510.48" y="297.91" width="5.0" height="5.0" stroke="#d01e2c" stroke-width="1.75"/>
<rect x="520.55" y="290.08" width="5.0" height="5.0" stroke="#d01e2c" stroke-width="1.75"/>
<rect x="530.99" y="280.90" width="5.0" height="5.0" stroke="#d01e2c" stroke-width="1.75"/>
<rect x="542.33" y="271.27" width="5.0" height="5.0" stroke="#d01e2c" stroke-width="1.75"/>
<rect x="553.54" y="261.20" width="5.0" height="5.0" stroke="#d01e2c" stroke-width="1.75"/>
<rect x="565.90" y="249.11" width="5.0" height="5.0" stroke="#d01e2c" stroke-width="1.75"/>
<rect x="578.89" y="234.56" width="5.0" height="5.0" stroke="#d01e2c" stroke-width="1.75"/>
<rect x="592.40" y="219.11" width="5.0" height="5.0" stroke="#d01e2c" stroke-width="1.75"/>
<rect x="606.03" y="200.53" width="5.0" height="5.0" stroke="#d01e2c" stroke-width="1.75"/>
<rect x="621.96" y="179.71" width="5.0" height="5.0" stroke="#d01e2c" stroke-width="1.75"/>
<rect x="637.88" y="155.31" width="5.0" height="5.0" stroke="#d01e2c" stroke-width="1.75"/>
<rect x="654.95" y="126.43" width="5.0" height="5.0" stroke="#d01e2c" stroke-width="1.75"/>
<rect x="672.92" y="93.52" width="5.0" height="5.0" stroke="#d01e2c" stroke-width="1.75"/>
<rect x="691.13" y="53.90" width="5.0" height="5.0" stroke="#d01e2c" stroke-width="1.75"/>
<rect x="711.52" y="-4.53" width="5.0" height="5.0" stroke="#d01e2c" stroke-width="1.75"/>
<polygon points="512.98,329.74 516.28,324.02 509.68,324.02" stroke="#1c1cc8" stroke-width="1.45" stroke-linejoin="round"/>
<polygon points="523.05,327.05 526.35,321.34 519.75,321.34" stroke="#1c1cc8" stroke-width="1.45" stroke-linejoin="round"/>
<polygon points="533.49,322.80 536.79,317.08 530.19,317.08" stroke="#1c1cc8" stroke-width="1.45" stroke-linejoin="round"/>
<polygon points="544.83,318.77 548.13,313.05 541.53,313.05" stroke="#1c1cc8" stroke-width="1.45" stroke-linejoin="round"/>
<polygon points="556.04,314.74 559.34,309.02 552.74,309.02" stroke="#1c1cc8" stroke-width="1.45" stroke-linejoin="round"/>
<polygon points="568.40,309.81 571.70,304.10 565.10,304.10" stroke="#1c1cc8" stroke-width="1.45" stroke-linejoin="round"/>
<polygon points="581.39,304.22 584.69,298.50 578.09,298.50" stroke="#1c1cc8" stroke-width="1.45" stroke-linejoin="round"/>
<polygon points="594.90,298.40 598.20,292.68 591.60,292.68" stroke="#1c1cc8" stroke-width="1.45" stroke-linejoin="round"/>
<polygon points="608.53,291.46 611.83,285.74 605.23,285.74" stroke="#1c1cc8" stroke-width="1.45" stroke-linejoin="round"/>
<polygon points="624.46,282.95 627.76,277.23 621.16,277.23" stroke="#1c1cc8" stroke-width="1.45" stroke-linejoin="round"/>
<polygon points="640.38,274.22 643.68,268.50 637.08,268.50" stroke="#1c1cc8" stroke-width="1.45" stroke-linejoin="round"/>
<polygon points="657.45,263.03 660.75,257.31 654.15,257.31" stroke="#1c1cc8" stroke-width="1.45" stroke-linejoin="round"/>
<polygon points="675.42,250.04 678.72,244.33 672.12,244.33" stroke="#1c1cc8" stroke-width="1.45" stroke-linejoin="round"/>
<polygon points="693.63,234.37 696.93,228.66 690.33,228.66" stroke="#1c1cc8" stroke-width="1.45" stroke-linejoin="round"/>
<polygon points="714.02,215.57 717.32,209.85 710.72,209.85" stroke="#1c1cc8" stroke-width="1.45" stroke-linejoin="round"/>
</g>
<path d="M441,11.4 H759.5 V347.2 H441 Z M504.70,347.2 v-3.2 M504.70,11.4 v3.2 M568.40,347.2 v-3.2 M568.40,11.4 v3.2 M632.10,347.2 v-3.2 M632.10,11.4 v3.2 M695.80,347.2 v-3.2 M695.80,11.4 v3.2 M441,235.27 h3.2 M759.5,235.27 h-3.2 M441,123.33 h3.2 M759.5,123.33 h-3.2" fill="none" stroke="#606060" stroke-width="1.3"/>
<text x="441.00" y="365.70" font-size="14.0" fill="#1c1c1c" text-anchor="middle">10</text>
<text x="504.70" y="365.70" font-size="14.0" fill="#1c1c1c" text-anchor="middle">15</text>
<text x="568.40" y="365.70" font-size="14.0" fill="#1c1c1c" text-anchor="middle">20</text>
<text x="632.10" y="365.70" font-size="14.0" fill="#1c1c1c" text-anchor="middle">25</text>
<text x="695.80" y="365.70" font-size="14.0" fill="#1c1c1c" text-anchor="middle">30</text>
<text x="759.50" y="365.70" font-size="14.0" fill="#1c1c1c" text-anchor="middle">35</text>
<text x="436.20" y="352.50" font-size="14.0" fill="#1c1c1c" text-anchor="end">0</text>
<text x="436.20" y="240.57" font-size="14.0" fill="#1c1c1c" text-anchor="end">5</text>
<text x="436.20" y="128.63" font-size="14.0" fill="#1c1c1c" text-anchor="end">10</text>
<text x="436.20" y="16.70" font-size="14.0" fill="#1c1c1c" text-anchor="end">15</text>
<text x="598.60" y="380.10" font-size="15.25" letter-spacing="0.1" fill="#1c1c1c" text-anchor="middle">Volume (ml)</text>
<text transform="translate(416.75,178.90) rotate(-90)" font-size="15.3" letter-spacing="0.15" fill="#1c1c1c" text-anchor="middle">Stress (kPa)</text>
<text x="392.3" y="13.9" font-size="16" class="b" fill="#000">D</text>
<rect x="477.00" y="40.80" width="4.60" height="4.60" fill="none" stroke="#d01e2c" stroke-width="1.6"/>
<line x1="463" y1="65.2" x2="496.1" y2="65.2" stroke="#d01e2c" stroke-width="1.35" stroke-dasharray="8.30,5.10"/>
<polygon points="479.30,91.40 482.60,85.70 476.00,85.70" fill="none" stroke="#1c1cc8" stroke-width="1.35"/>
<line x1="463" y1="110.4" x2="496.1" y2="110.4" stroke="#1c1cc8" stroke-width="1.35" stroke-dasharray="7.20,2.80,1.20,2.60"/>
<text x="498.90" y="46.10" class="g" font-size="13.50" fill="#333">σ</text>
<text x="507.00" y="38.50" class="g" font-size="10.50" fill="#444">ϕ</text>
<text x="507.80" y="52.30" font-size="10.00" fill="#1c1c1c">1j</text>
<text x="515.60" y="46.00" font-size="13.80" fill="#1c1c1c">,exp</text>
<text x="498.90" y="68.20" class="g" font-size="13.50" fill="#333">σ</text>
<text x="507.00" y="60.60" class="g" font-size="10.50" fill="#444">ϕ</text>
<text x="507.80" y="74.40" font-size="10.00" fill="#1c1c1c">1j</text>
<text x="515.60" y="68.10" font-size="13.80" fill="#1c1c1c">,model</text>
<text x="498.90" y="91.40" class="g" font-size="13.50" fill="#333">σ</text>
<text x="507.00" y="83.80" class="g" font-size="9.50" fill="#444">θ</text>
<text x="507.80" y="97.60" font-size="10.00" fill="#1c1c1c">1j</text>
<text x="515.60" y="91.30" font-size="13.80" fill="#1c1c1c">,exp</text>
<text x="498.90" y="113.40" class="g" font-size="13.50" fill="#333">σ</text>
<text x="507.00" y="105.80" class="g" font-size="9.50" fill="#444">θ</text>
<text x="507.80" y="119.60" font-size="10.00" fill="#1c1c1c">1j</text>
<text x="515.60" y="113.30" font-size="13.80" fill="#1c1c1c">,model</text>
<text x="460.1" y="143.9" font-size="13.7" fill="#1c1c1c">GB39 at point 1</text>
<clipPath id="c4"><rect x="443.5" y="423" width="311.60" height="328.40"/></clipPath>
<g clip-path="url(#c4)" fill="none" stroke-width="1.35">
<path d="M513.92,708.49 L514.51,708.06 L515.26,707.51 L516.14,706.85 L517.14,706.12 L518.21,705.33 L519.34,704.50 L520.49,703.66 L521.63,702.82 L522.73,702.02 L523.77,701.26 L524.76,700.55 L525.75,699.84 L526.74,699.14 L527.73,698.44 L528.73,697.73 L529.73,697.02 L530.74,696.30 L531.77,695.57 L532.81,694.82 L533.86,694.04 L534.94,693.24 L536.04,692.43 L537.15,691.60 L538.27,690.76 L539.40,689.91 L540.54,689.04 L541.68,688.17 L542.82,687.29 L543.95,686.40 L545.08,685.50 L546.20,684.60 L547.32,683.68 L548.44,682.76 L549.56,681.83 L550.68,680.89 L551.80,679.94 L552.92,678.99 L554.05,678.03 L555.17,677.06 L556.30,676.09 L557.42,675.11 L558.53,674.14 L559.64,673.17 L560.74,672.19 L561.85,671.20 L562.97,670.20 L564.11,669.19 L565.26,668.15 L566.44,667.10 L567.64,666.02 L568.88,664.91 L570.15,663.79 L571.44,662.65 L572.74,661.50 L574.07,660.32 L575.40,659.13 L576.74,657.92 L578.08,656.70 L579.41,655.45 L580.73,654.19 L582.04,652.92 L583.36,651.62 L584.67,650.31 L585.99,648.97 L587.30,647.63 L588.62,646.26 L589.95,644.88 L591.27,643.47 L592.60,642.06 L593.94,640.62 L595.28,639.17 L596.61,637.70 L597.94,636.22 L599.28,634.72 L600.62,633.20 L601.97,631.67 L603.33,630.11 L604.71,628.53 L606.11,626.92 L607.53,625.29 L608.97,623.64 L610.44,621.97 L611.94,620.28 L613.45,618.56 L614.97,616.82 L616.49,615.06 L618.03,613.28 L619.56,611.47 L621.09,609.64 L622.61,607.78 L624.11,605.90 L625.61,604.00 L627.10,602.08 L628.59,600.14 L630.08,598.17 L631.58,596.18 L633.10,594.15 L634.64,592.09 L636.21,589.99 L637.81,587.86 L639.45,585.69 L641.12,583.50 L642.82,581.27 L644.53,579.02 L646.27,576.73 L648.01,574.41 L649.76,572.04 L651.52,569.62 L653.27,567.16 L655.01,564.65 L656.75,562.09 L658.49,559.50 L660.24,556.88 L661.98,554.20 L663.73,551.49 L665.49,548.72 L667.25,545.90 L669.02,543.02 L670.80,540.07 L672.59,537.06 L674.38,533.99 L676.18,530.87 L677.98,527.69 L679.79,524.45 L681.61,521.15 L683.44,517.80 L685.28,514.38 L687.14,510.91 L689.01,507.38 L690.91,503.79 L692.92,499.93 L695.10,495.70 L697.37,491.23 L699.68,486.66 L701.96,482.11 L704.16,477.74 L706.19,473.66 L708.01,470.02 L709.54,466.96 L710.73,464.60" stroke="#d01e2c" stroke-dasharray="8.3,5.0"/>
<path d="M513.92,745.27 L514.51,745.10 L515.26,744.88 L516.14,744.62 L517.14,744.33 L518.21,744.01 L519.34,743.68 L520.49,743.35 L521.63,743.02 L522.73,742.71 L523.77,742.42 L524.76,742.15 L525.75,741.89 L526.74,741.63 L527.73,741.38 L528.73,741.12 L529.73,740.87 L530.74,740.61 L531.77,740.35 L532.81,740.08 L533.86,739.80 L534.94,739.51 L536.04,739.22 L537.15,738.92 L538.27,738.61 L539.40,738.31 L540.54,737.99 L541.68,737.68 L542.82,737.37 L543.95,737.05 L545.08,736.73 L546.20,736.41 L547.32,736.08 L548.44,735.74 L549.56,735.40 L550.68,735.06 L551.80,734.72 L552.92,734.39 L554.05,734.07 L555.17,733.75 L556.30,733.45 L557.42,733.16 L558.53,732.90 L559.64,732.65 L560.74,732.40 L561.85,732.16 L562.97,731.92 L564.11,731.67 L565.26,731.41 L566.44,731.12 L567.64,730.82 L568.88,730.50 L570.15,730.16 L571.44,729.80 L572.74,729.44 L574.07,729.07 L575.40,728.69 L576.74,728.30 L578.08,727.90 L579.41,727.50 L580.73,727.10 L582.04,726.70 L583.36,726.29 L584.67,725.89 L585.99,725.48 L587.30,725.06 L588.62,724.63 L589.95,724.18 L591.27,723.72 L592.60,723.23 L593.94,722.72 L595.28,722.18 L596.61,721.61 L597.94,721.02 L599.28,720.41 L600.62,719.79 L601.97,719.16 L603.33,718.52 L604.71,717.87 L606.11,717.23 L607.53,716.59 L608.97,715.95 L610.44,715.31 L611.94,714.66 L613.45,714.00 L614.97,713.35 L616.49,712.69 L618.03,712.02 L619.56,711.36 L621.09,710.69 L622.61,710.02 L624.11,709.37 L625.61,708.74 L627.10,708.13 L628.59,707.52 L630.08,706.90 L631.58,706.26 L633.10,705.58 L634.64,704.86 L636.21,704.08 L637.81,703.23 L639.45,702.31 L641.12,701.32 L642.82,700.28 L644.53,699.19 L646.27,698.06 L648.01,696.91 L649.76,695.75 L651.52,694.59 L653.27,693.43 L655.01,692.29 L656.75,691.17 L658.49,690.07 L660.24,688.97 L661.98,687.87 L663.73,686.76 L665.49,685.63 L667.25,684.46 L669.02,683.25 L670.80,682.00 L672.59,680.68 L674.38,679.32 L676.18,677.93 L677.98,676.51 L679.79,675.05 L681.61,673.56 L683.44,672.01 L685.28,670.43 L687.14,668.79 L689.01,667.10 L690.91,665.36 L692.92,663.45 L695.10,661.32 L697.37,659.04 L699.68,656.68 L701.96,654.33 L704.16,652.06 L706.19,649.93 L708.01,648.03 L709.54,646.44 L710.73,645.22" stroke="#1c1cc8" stroke-dasharray="6.8,2.7,1.3,2.6"/>
<rect x="511.42" y="705.99" width="5.0" height="5.0" stroke="#d01e2c" stroke-width="1.75"/>
<rect x="521.27" y="698.76" width="5.0" height="5.0" stroke="#d01e2c" stroke-width="1.75"/>
<rect x="531.36" y="691.54" width="5.0" height="5.0" stroke="#d01e2c" stroke-width="1.75"/>
<rect x="542.58" y="683.00" width="5.0" height="5.0" stroke="#d01e2c" stroke-width="1.75"/>
<rect x="553.80" y="673.59" width="5.0" height="5.0" stroke="#d01e2c" stroke-width="1.75"/>
<rect x="565.14" y="663.52" width="5.0" height="5.0" stroke="#d01e2c" stroke-width="1.75"/>
<rect x="578.23" y="651.69" width="5.0" height="5.0" stroke="#d01e2c" stroke-width="1.75"/>
<rect x="591.44" y="638.12" width="5.0" height="5.0" stroke="#d01e2c" stroke-width="1.75"/>
<rect x="605.03" y="622.79" width="5.0" height="5.0" stroke="#d01e2c" stroke-width="1.75"/>
<rect x="620.11" y="605.28" width="5.0" height="5.0" stroke="#d01e2c" stroke-width="1.75"/>
<rect x="635.31" y="585.36" width="5.0" height="5.0" stroke="#d01e2c" stroke-width="1.75"/>
<rect x="652.51" y="562.15" width="5.0" height="5.0" stroke="#d01e2c" stroke-width="1.75"/>
<rect x="670.09" y="534.56" width="5.0" height="5.0" stroke="#d01e2c" stroke-width="1.75"/>
<rect x="688.41" y="501.29" width="5.0" height="5.0" stroke="#d01e2c" stroke-width="1.75"/>
<rect x="708.23" y="462.10" width="5.0" height="5.0" stroke="#d01e2c" stroke-width="1.75"/>
<polygon points="513.92,748.63 517.22,742.91 510.62,742.91" stroke="#1c1cc8" stroke-width="1.45" stroke-linejoin="round"/>
<polygon points="523.77,745.78 527.07,740.07 520.47,740.07" stroke="#1c1cc8" stroke-width="1.45" stroke-linejoin="round"/>
<polygon points="533.86,743.15 537.16,737.44 530.56,737.44" stroke="#1c1cc8" stroke-width="1.45" stroke-linejoin="round"/>
<polygon points="545.08,740.09 548.38,734.37 541.78,734.37" stroke="#1c1cc8" stroke-width="1.45" stroke-linejoin="round"/>
<polygon points="556.30,736.81 559.60,731.09 553.00,731.09" stroke="#1c1cc8" stroke-width="1.45" stroke-linejoin="round"/>
<polygon points="567.64,734.18 570.94,728.46 564.34,728.46" stroke="#1c1cc8" stroke-width="1.45" stroke-linejoin="round"/>
<polygon points="580.73,730.46 584.03,724.74 577.43,724.74" stroke="#1c1cc8" stroke-width="1.45" stroke-linejoin="round"/>
<polygon points="593.94,726.08 597.24,720.36 590.64,720.36" stroke="#1c1cc8" stroke-width="1.45" stroke-linejoin="round"/>
<polygon points="607.53,719.95 610.83,714.23 604.23,714.23" stroke="#1c1cc8" stroke-width="1.45" stroke-linejoin="round"/>
<polygon points="622.61,713.38 625.91,707.66 619.31,707.66" stroke="#1c1cc8" stroke-width="1.45" stroke-linejoin="round"/>
<polygon points="637.81,706.59 641.11,700.88 634.51,700.88" stroke="#1c1cc8" stroke-width="1.45" stroke-linejoin="round"/>
<polygon points="655.01,695.65 658.31,689.93 651.71,689.93" stroke="#1c1cc8" stroke-width="1.45" stroke-linejoin="round"/>
<polygon points="672.59,684.04 675.89,678.33 669.29,678.33" stroke="#1c1cc8" stroke-width="1.45" stroke-linejoin="round"/>
<polygon points="690.91,668.72 694.21,663.00 687.61,663.00" stroke="#1c1cc8" stroke-width="1.45" stroke-linejoin="round"/>
<polygon points="710.73,648.58 714.03,642.86 707.43,642.86" stroke="#1c1cc8" stroke-width="1.45" stroke-linejoin="round"/>
</g>
<path d="M443.5,423 H755.1 V751.4 H443.5 Z M505.82,751.4 v-3.2 M505.82,423 v3.2 M568.14,751.4 v-3.2 M568.14,423 v3.2 M630.46,751.4 v-3.2 M630.46,423 v3.2 M692.78,751.4 v-3.2 M692.78,423 v3.2 M443.5,641.93 h3.2 M755.1,641.93 h-3.2 M443.5,532.47 h3.2 M755.1,532.47 h-3.2" fill="none" stroke="#606060" stroke-width="1.3"/>
<text x="443.50" y="768.90" font-size="14.0" fill="#1c1c1c" text-anchor="middle">10</text>
<text x="505.82" y="768.90" font-size="14.0" fill="#1c1c1c" text-anchor="middle">15</text>
<text x="568.14" y="768.90" font-size="14.0" fill="#1c1c1c" text-anchor="middle">20</text>
<text x="630.46" y="768.90" font-size="14.0" fill="#1c1c1c" text-anchor="middle">25</text>
<text x="692.78" y="768.90" font-size="14.0" fill="#1c1c1c" text-anchor="middle">30</text>
<text x="755.10" y="768.90" font-size="14.0" fill="#1c1c1c" text-anchor="middle">35</text>
<text x="439.30" y="756.70" font-size="14.0" fill="#1c1c1c" text-anchor="end">0</text>
<text x="439.30" y="647.23" font-size="14.0" fill="#1c1c1c" text-anchor="end">5</text>
<text x="439.30" y="537.77" font-size="14.0" fill="#1c1c1c" text-anchor="end">10</text>
<text x="439.30" y="428.30" font-size="14.0" fill="#1c1c1c" text-anchor="end">15</text>
<text x="599.80" y="788.50" font-size="15.15" letter-spacing="0.1" fill="#1c1c1c" text-anchor="middle">Volume (ml)</text>
<text transform="translate(420.02,584.40) rotate(-90)" font-size="15.0" letter-spacing="0" fill="#1c1c1c" text-anchor="middle">Stress (kPa)</text>
<text x="392.7" y="417.4" font-size="15" class="b" fill="#000">E</text>
<rect x="483.97" y="449.97" width="4.46" height="4.46" fill="none" stroke="#d01e2c" stroke-width="1.6"/>
<line x1="469.5" y1="473.4" x2="502.4" y2="473.4" stroke="#d01e2c" stroke-width="1.35" stroke-dasharray="8.05,4.95"/>
<polygon points="486.20,499.81 489.40,494.28 483.00,494.28" fill="none" stroke="#1c1cc8" stroke-width="1.35"/>
<line x1="469.5" y1="516.8" x2="502.4" y2="516.8" stroke="#1c1cc8" stroke-width="1.35" stroke-dasharray="6.98,2.72,1.16,2.52"/>
<text x="504.90" y="455.11" class="g" font-size="13.09" fill="#333">σ</text>
<text x="512.77" y="447.74" class="g" font-size="10.19" fill="#444">ϕ</text>
<text x="513.54" y="461.12" font-size="9.70" fill="#1c1c1c">2j</text>
<text x="521.11" y="455.01" font-size="13.39" fill="#1c1c1c">,exp</text>
<text x="504.90" y="476.31" class="g" font-size="13.09" fill="#333">σ</text>
<text x="512.77" y="468.94" class="g" font-size="10.19" fill="#444">ϕ</text>
<text x="513.54" y="482.32" font-size="9.70" fill="#1c1c1c">2j</text>
<text x="521.11" y="476.21" font-size="13.39" fill="#1c1c1c">,model</text>
<text x="504.90" y="499.81" class="g" font-size="13.09" fill="#333">σ</text>
<text x="512.77" y="492.44" class="g" font-size="9.21" fill="#444">θ</text>
<text x="513.54" y="505.82" font-size="9.70" fill="#1c1c1c">2j</text>
<text x="521.11" y="499.71" font-size="13.39" fill="#1c1c1c">,exp</text>
<text x="504.90" y="519.71" class="g" font-size="13.09" fill="#333">σ</text>
<text x="512.77" y="512.34" class="g" font-size="9.21" fill="#444">θ</text>
<text x="513.54" y="525.72" font-size="9.70" fill="#1c1c1c">2j</text>
<text x="521.11" y="519.61" font-size="13.39" fill="#1c1c1c">,model</text>
<text x="466.5" y="545.7" font-size="13.5" fill="#1c1c1c">GB39 at point 2</text>
<clipPath id="c5"><rect x="436.4" y="831.3" width="326.50" height="325.90"/></clipPath>
<g clip-path="url(#c5)" fill="none" stroke-width="1.35">
<path d="M510.84,1150.68 L512.65,1150.32 L514.99,1149.87 L517.77,1149.33 L520.88,1148.73 L524.23,1148.07 L527.71,1147.39 L531.21,1146.68 L534.64,1145.97 L537.90,1145.27 L540.88,1144.60 L543.62,1143.95 L546.25,1143.30 L548.80,1142.65 L551.30,1141.98 L553.78,1141.31 L556.27,1140.63 L558.81,1139.92 L561.42,1139.19 L564.14,1138.43 L567.00,1137.65 L570.00,1136.83 L573.11,1135.99 L576.32,1135.14 L579.59,1134.26 L582.92,1133.35 L586.28,1132.43 L589.65,1131.49 L593.02,1130.52 L596.36,1129.53 L599.65,1128.52 L602.94,1127.48 L606.26,1126.41 L609.59,1125.30 L612.94,1124.18 L616.27,1123.03 L619.58,1121.88 L622.85,1120.71 L626.07,1119.55 L629.23,1118.38 L632.30,1117.22 L635.34,1116.05 L638.39,1114.84 L641.42,1113.61 L644.41,1112.37 L647.34,1111.14 L650.19,1109.92 L652.92,1108.74 L655.53,1107.59 L657.98,1106.51 L660.25,1105.49 L662.28,1104.56 L664.07,1103.72 L665.66,1102.95 L667.11,1102.23 L668.47,1101.53 L669.79,1100.83 L671.13,1100.12 L672.55,1099.37 L674.08,1098.56 L675.79,1097.67 L677.66,1096.70 L679.63,1095.68 L681.68,1094.62 L683.79,1093.52 L685.94,1092.40 L688.10,1091.27 L690.27,1090.13 L692.41,1089.00 L694.51,1087.89 L696.56,1086.81 L698.63,1085.70 L700.82,1084.53 L703.07,1083.32 L705.32,1082.10 L707.52,1080.91 L709.61,1079.78 L711.55,1078.73 L713.28,1077.79 L714.74,1077.00 L715.88,1076.38" stroke="#d01e2c" stroke-dasharray="8.3,5.0"/>
<path d="M510.84,1135.91 L512.65,1135.52 L514.99,1135.02 L517.77,1134.42 L520.88,1133.76 L524.23,1133.04 L527.71,1132.29 L531.21,1131.53 L534.64,1130.78 L537.90,1130.06 L540.88,1129.39 L543.62,1128.76 L546.25,1128.16 L548.80,1127.58 L551.30,1127.00 L553.78,1126.42 L556.27,1125.82 L558.81,1125.20 L561.42,1124.54 L564.14,1123.84 L567.00,1123.09 L570.00,1122.28 L573.11,1121.44 L576.32,1120.56 L579.59,1119.64 L582.92,1118.70 L586.28,1117.74 L589.65,1116.76 L593.02,1115.76 L596.36,1114.76 L599.65,1113.75 L602.84,1112.77 L605.92,1111.83 L608.94,1110.91 L611.94,1109.98 L614.97,1109.02 L618.08,1108.01 L621.32,1106.91 L624.74,1105.71 L628.38,1104.37 L632.30,1102.88 L636.58,1101.19 L641.24,1099.28 L646.17,1097.21 L651.29,1095.03 L656.52,1092.78 L661.75,1090.51 L666.91,1088.28 L671.90,1086.12 L676.63,1084.10 L681.01,1082.24 L685.22,1080.49 L689.43,1078.74 L693.59,1077.03 L697.63,1075.37 L701.49,1073.78 L705.11,1072.30 L708.42,1070.95 L711.36,1069.75 L713.87,1068.73 L715.88,1067.90" stroke="#1c1cc8" stroke-dasharray="6.8,2.7,1.3,2.6"/>
<rect x="508.56" y="1147.45" width="5.6" height="5.6" stroke="#d01e2c" stroke-width="1.75"/>
<rect x="518.49" y="1143.75" width="5.6" height="5.6" stroke="#d01e2c" stroke-width="1.75"/>
<rect x="528.81" y="1139.84" width="5.6" height="5.6" stroke="#d01e2c" stroke-width="1.75"/>
<rect x="539.26" y="1135.50" width="5.6" height="5.6" stroke="#d01e2c" stroke-width="1.75"/>
<rect x="551.40" y="1131.15" width="5.6" height="5.6" stroke="#d01e2c" stroke-width="1.75"/>
<rect x="564.20" y="1127.24" width="5.6" height="5.6" stroke="#d01e2c" stroke-width="1.75"/>
<rect x="577.26" y="1123.98" width="5.6" height="5.6" stroke="#d01e2c" stroke-width="1.75"/>
<rect x="590.32" y="1119.85" width="5.6" height="5.6" stroke="#d01e2c" stroke-width="1.75"/>
<rect x="605.60" y="1115.29" width="5.6" height="5.6" stroke="#d01e2c" stroke-width="1.75"/>
<rect x="621.53" y="1112.03" width="5.6" height="5.6" stroke="#d01e2c" stroke-width="1.75"/>
<rect x="637.47" y="1108.12" width="5.6" height="5.6" stroke="#d01e2c" stroke-width="1.75"/>
<rect x="655.10" y="1104.43" width="5.6" height="5.6" stroke="#d01e2c" stroke-width="1.75"/>
<rect x="673.25" y="1100.30" width="5.6" height="5.6" stroke="#d01e2c" stroke-width="1.75"/>
<rect x="692.71" y="1096.82" width="5.6" height="5.6" stroke="#d01e2c" stroke-width="1.75"/>
<rect x="712.95" y="1092.26" width="5.6" height="5.6" stroke="#d01e2c" stroke-width="1.75"/>
<polygon points="511.36,1141.00 515.16,1134.42 507.56,1134.42" stroke="#1c1cc8" stroke-width="1.45" stroke-linejoin="round"/>
<polygon points="521.29,1136.87 525.09,1130.29 517.49,1130.29" stroke="#1c1cc8" stroke-width="1.45" stroke-linejoin="round"/>
<polygon points="531.61,1132.96 535.41,1126.38 527.81,1126.38" stroke="#1c1cc8" stroke-width="1.45" stroke-linejoin="round"/>
<polygon points="542.06,1128.62 545.86,1122.04 538.26,1122.04" stroke="#1c1cc8" stroke-width="1.45" stroke-linejoin="round"/>
<polygon points="554.20,1124.71 558.00,1118.13 550.40,1118.13" stroke="#1c1cc8" stroke-width="1.45" stroke-linejoin="round"/>
<polygon points="567.00,1120.58 570.80,1114.00 563.20,1114.00" stroke="#1c1cc8" stroke-width="1.45" stroke-linejoin="round"/>
<polygon points="580.06,1116.02 583.86,1109.43 576.26,1109.43" stroke="#1c1cc8" stroke-width="1.45" stroke-linejoin="round"/>
<polygon points="593.12,1112.11 596.92,1105.52 589.32,1105.52" stroke="#1c1cc8" stroke-width="1.45" stroke-linejoin="round"/>
<polygon points="608.40,1107.54 612.20,1100.96 604.60,1100.96" stroke="#1c1cc8" stroke-width="1.45" stroke-linejoin="round"/>
<polygon points="624.33,1104.07 628.13,1097.49 620.53,1097.49" stroke="#1c1cc8" stroke-width="1.45" stroke-linejoin="round"/>
<polygon points="640.27,1099.94 644.07,1093.36 636.47,1093.36" stroke="#1c1cc8" stroke-width="1.45" stroke-linejoin="round"/>
<polygon points="657.90,1096.03 661.70,1089.45 654.10,1089.45" stroke="#1c1cc8" stroke-width="1.45" stroke-linejoin="round"/>
<polygon points="676.05,1091.03 679.85,1084.45 672.25,1084.45" stroke="#1c1cc8" stroke-width="1.45" stroke-linejoin="round"/>
<polygon points="695.51,1087.12 699.31,1080.54 691.71,1080.54" stroke="#1c1cc8" stroke-width="1.45" stroke-linejoin="round"/>
<polygon points="715.75,1082.56 719.55,1075.98 711.95,1075.98" stroke="#1c1cc8" stroke-width="1.45" stroke-linejoin="round"/>
</g>
<path d="M436.4,831.3 H762.9 V1157.2 H436.4 Z M501.70,1157.2 v-3.2 M501.70,831.3 v3.2 M567.00,1157.2 v-3.2 M567.00,831.3 v3.2 M632.30,1157.2 v-3.2 M632.30,831.3 v3.2 M697.60,1157.2 v-3.2 M697.60,831.3 v3.2 M436.4,1048.57 h3.2 M762.9,1048.57 h-3.2 M436.4,939.93 h3.2 M762.9,939.93 h-3.2" fill="none" stroke="#606060" stroke-width="1.3"/>
<text x="436.40" y="1175.80" font-size="14.6" fill="#1c1c1c" text-anchor="middle">10</text>
<text x="501.70" y="1175.80" font-size="14.6" fill="#1c1c1c" text-anchor="middle">15</text>
<text x="567.00" y="1175.80" font-size="14.6" fill="#1c1c1c" text-anchor="middle">20</text>
<text x="632.30" y="1175.80" font-size="14.6" fill="#1c1c1c" text-anchor="middle">25</text>
<text x="697.60" y="1175.80" font-size="14.6" fill="#1c1c1c" text-anchor="middle">30</text>
<text x="762.90" y="1175.80" font-size="14.6" fill="#1c1c1c" text-anchor="middle">35</text>
<text x="431.50" y="1162.71" font-size="14.6" fill="#1c1c1c" text-anchor="end">0</text>
<text x="431.50" y="1054.08" font-size="14.6" fill="#1c1c1c" text-anchor="end">5</text>
<text x="431.50" y="945.44" font-size="14.6" fill="#1c1c1c" text-anchor="end">10</text>
<text x="431.50" y="836.81" font-size="14.6" fill="#1c1c1c" text-anchor="end">15</text>
<text x="599.80" y="1192.70" font-size="14.30" letter-spacing="0" fill="#1c1c1c" text-anchor="middle">Volume(ml)</text>
<text transform="translate(410.61,996.20) rotate(-90)" font-size="15.8" letter-spacing="0" fill="#1c1c1c" text-anchor="middle">Stress(kPa)</text>
<text x="392.4" y="823.8" font-size="16" class="b" fill="#000">F</text>
<rect x="479.72" y="863.42" width="4.97" height="4.97" fill="none" stroke="#d01e2c" stroke-width="1.6"/>
<line x1="463" y1="888.5" x2="499.2" y2="888.5" stroke="#d01e2c" stroke-width="1.35" stroke-dasharray="8.96,5.51"/>
<polygon points="482.20,915.54 485.76,909.38 478.64,909.38" fill="none" stroke="#1c1cc8" stroke-width="1.35"/>
<line x1="463" y1="934.4" x2="499.2" y2="934.4" stroke="#1c1cc8" stroke-width="1.35" stroke-dasharray="7.78,3.02,1.30,2.81"/>
<text x="503.50" y="869.14" class="g" font-size="14.58" fill="#333">σ</text>
<text x="512.22" y="860.93" class="g" font-size="11.34" fill="#444">ϕ</text>
<text x="513.09" y="875.84" font-size="10.80" fill="#1c1c1c">3j</text>
<text x="521.51" y="869.03" font-size="14.90" fill="#1c1c1c">,exp</text>
<text x="503.50" y="891.74" class="g" font-size="14.58" fill="#333">σ</text>
<text x="512.22" y="883.53" class="g" font-size="11.34" fill="#444">ϕ</text>
<text x="513.09" y="898.44" font-size="10.80" fill="#1c1c1c">3j</text>
<text x="521.51" y="891.63" font-size="14.90" fill="#1c1c1c">,model</text>
<text x="503.50" y="915.54" class="g" font-size="14.58" fill="#333">σ</text>
<text x="512.22" y="907.33" class="g" font-size="10.26" fill="#444">θ</text>
<text x="513.09" y="922.24" font-size="10.80" fill="#1c1c1c">3j</text>
<text x="521.51" y="915.43" font-size="14.90" fill="#1c1c1c">,exp</text>
<text x="503.50" y="937.64" class="g" font-size="14.58" fill="#333">σ</text>
<text x="512.22" y="929.43" class="g" font-size="10.26" fill="#444">θ</text>
<text x="513.09" y="944.34" font-size="10.80" fill="#1c1c1c">3j</text>
<text x="521.51" y="937.53" font-size="14.90" fill="#1c1c1c">,model</text>
<text x="461.4" y="966.2" font-size="15" fill="#1c1c1c">GB39 at point 3</text>
</g></svg></body></html>
